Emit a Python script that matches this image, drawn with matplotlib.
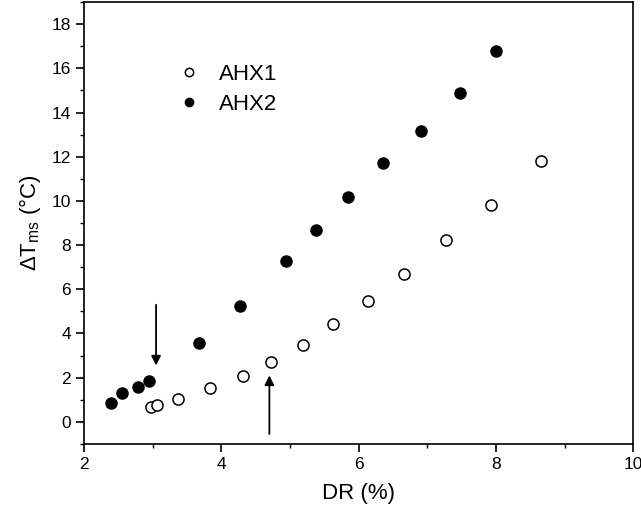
import numpy as np
import matplotlib.pyplot as plt
from matplotlib.ticker import MultipleLocator

plt.rcParams['font.family'] = ['Liberation Sans', 'DejaVu Sans']
plt.rcParams['mathtext.fontset'] = 'custom'
plt.rcParams['mathtext.rm'] = 'Liberation Sans'

# AHX1 (open circles)
dr1 = [2.98, 3.06, 3.37, 3.83, 4.31, 4.73, 5.19, 5.63, 6.14, 6.66, 7.27, 7.93, 8.66]
dt1 = [0.66, 0.77, 1.04, 1.52, 2.06, 2.72, 3.47, 4.42, 5.46, 6.68, 8.21, 9.81, 11.79]
# AHX2 (filled circles)
dr2 = [2.40, 2.56, 2.78, 2.94, 3.68, 4.27, 4.94, 5.38, 5.85, 6.35, 6.91, 7.47, 8.00]
dt2 = [0.83, 1.31, 1.58, 1.85, 3.59, 5.25, 7.29, 8.70, 10.18, 11.73, 13.18, 14.90, 16.80]

# arrows: (x, y_start, y_end)
arrows = [(3.05, 5.3, 2.55), (4.70, -0.55, 2.1)]

fig = plt.figure(figsize=(6.41, 5.15), dpi=100)
ax = fig.add_axes([0.131, 0.138, 0.857, 0.858])

ax.plot(dr1, dt1, 'o', ms=8, mfc='white', mec='black', mew=1.1, label='AHX1')
ax.plot(dr2, dt2, 'o', ms=8, mfc='black', mec='black', label='AHX2')

for x, y0, y1 in arrows:
    ax.annotate('', xy=(x, y1), xytext=(x, y0),
                arrowprops=dict(arrowstyle='-|>', color='black', lw=1.3,
                                mutation_scale=14, shrinkA=0, shrinkB=0))

ax.set_xlim(2, 10)
ax.set_ylim(-1, 19)
ax.xaxis.set_major_locator(MultipleLocator(2))
ax.xaxis.set_minor_locator(MultipleLocator(1))
ax.yaxis.set_major_locator(MultipleLocator(2))
ax.yaxis.set_minor_locator(MultipleLocator(1))
ax.set_yticks(np.arange(0, 19, 2))
ax.tick_params(which='major', direction='out', length=6, width=1.2, labelsize=12.5)
ax.tick_params(which='minor', direction='out', length=3, width=1.0)
for s in ax.spines.values():
    s.set_linewidth(1.2)

ax.set_xlabel('DR (%)', fontsize=16, labelpad=8)
ax.set_ylabel(r'ΔT$_{\mathregular{ms}}$ (°C)', fontsize=16, labelpad=6)

ax.legend(loc='upper left', bbox_to_anchor=(0.15, 0.88), frameon=False,
          fontsize=16, markerscale=0.75, handlelength=1.2, handletextpad=0.75,
          labelspacing=0.4, borderaxespad=0)

fig.savefig('out.png', dpi=100)
